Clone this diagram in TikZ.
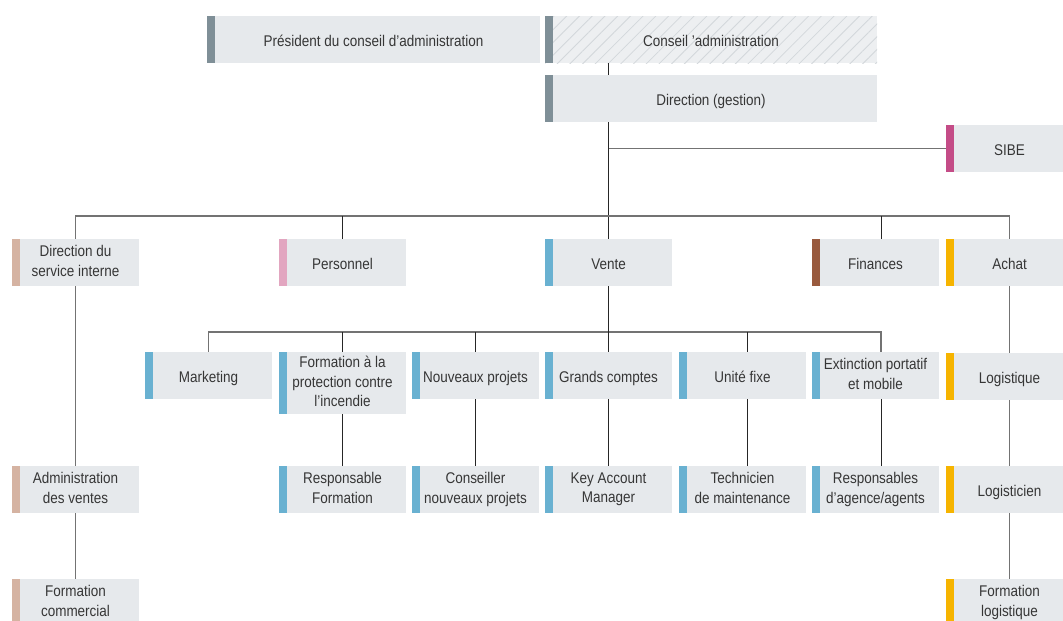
\documentclass[tikz,border=0pt]{standalone}
\usepackage{fontspec}
\setmainfont{Liberation Sans}[FakeStretch=0.87]
\usetikzlibrary{patterns.meta}

\definecolor{boxgray}{HTML}{E6E9EC}
\definecolor{hatchbg}{HTML}{EDEFF1}
\definecolor{hatchline}{HTML}{D3D7DB}
\definecolor{textgray}{HTML}{363636}
\definecolor{slate}{HTML}{7F8F97}
\definecolor{tan}{HTML}{D5B3A2}
\definecolor{rose}{HTML}{E2A6C0}
\definecolor{sky}{HTML}{69B1D1}
\definecolor{brown}{HTML}{995A3E}
\definecolor{amber}{HTML}{F6B400}
\definecolor{magenta}{HTML}{C44C87}

\tikzset{
    unit/.style={rectangle, fill=boxgray, inner sep=0pt,
        minimum width=127pt, minimum height=47pt,
        align=center, text=textgray, font=\fontsize{15.5}{19.5}\selectfont,
        execute at begin node=\rule{0pt}{17pt},
        execute at end node=\rule[-3pt]{0pt}{3pt},
        path picture={\fill[#1] (path picture bounding box.south west)
            rectangle ([xshift=8pt]path picture bounding box.north west);}},
    wide/.style={minimum width=332pt},
    link/.style={draw=black!85, line width=1pt},
    bus/.style={draw=black!55, line width=1.3pt},
}

\begin{document}
\begin{tikzpicture}[x=1pt,y=-1pt]
    \useasboundingbox (0,0) rectangle (1063,621);
    \clip (0,0) rectangle (1063,621);

    % top
    \node[unit=slate, wide, minimum width=333pt] (president) at (373.5, 39.5) {Président du conseil d’administration};
    \node[unit=slate, wide, preaction={fill=hatchbg},
        pattern={Lines[angle=45,distance=9pt,line width=0.8pt]}, pattern color=hatchline]
        (conseil) at (711, 39.5) {Conseil ’administration};
    \node[unit=slate, wide] (direction) at (711, 98.5) {Direction (gestion)};
    \node[unit=magenta] (sibe) at (1009.5, 148.5) {SIBE};

    % departments
    \node[unit=tan] (interne) at (75.5, 262.5) {Direction du\\service interne};
    \node[unit=rose] (personnel) at (342.5, 262.5) {Personnel};
    \node[unit=sky] (vente) at (608.5, 262.5) {Vente};
    \node[unit=brown] (finances) at (875.5, 262.5) {Finances};
    \node[unit=amber] (achat) at (1009.5, 262.5) {Achat};

    % sales units
    \node[unit=sky] (marketing) at (208.5, 375.5) {Marketing};
    \node[unit=sky, minimum height=62pt] (formation) at (342.5, 383) {Formation à la\\protection contre\\l’incendie};
    \node[unit=sky] (projets) at (475.5, 375.5) {Nouveaux projets};
    \node[unit=sky] (comptes) at (608.5, 375.5) {Grands comptes};
    \node[unit=sky] (fixe) at (742.5, 375.5) {Unité fixe};
    \node[unit=sky] (extinction) at (875.5, 375.5) {Extinction portatif\\et mobile};
    \node[unit=amber] (logistique) at (1009.5, 376.5) {Logistique};

    % staff
    \node[unit=tan] (adminventes) at (75.5, 489.5) {Administration\\des ventes};
    \node[unit=sky] (respformation) at (342.5, 489.5) {Responsable\\Formation};
    \node[unit=sky] (conseiller) at (475.5, 489.5) {Conseiller\\nouveaux projets};
    \node[unit=sky] (keyaccount) at (608.5, 489.5) {Key Account\\Manager};
    \node[unit=sky] (technicien) at (742.5, 489.5) {Technicien\\de maintenance};
    \node[unit=sky] (agents) at (875.5, 489.5) {Responsables\\d’agence/agents};
    \node[unit=amber] (logisticien) at (1009.5, 489.5) {Logisticien};

    \node[unit=tan] (formcommercial) at (75.5, 602.5) {Formation\\commercial};
    \node[unit=amber] (formlogistique) at (1009.5, 602.5) {Formation\\logistique};

    \coordinate (busA) at (0, 216);
    \coordinate (busB) at (0, 332);

    \draw[link] (vente |- conseil.south) -- (vente |- direction.north);
    \draw[link] (vente |- direction.south) -- (vente.north);
    \draw[bus] (vente |- sibe.west) -- (sibe.west);

    \draw[bus] (interne.north) -- (interne |- busA) -- (achat |- busA) -- (achat.north);
    \draw[link] (personnel.north) -- (personnel |- busA);
    \draw[link] ([xshift=5.5pt]finances.north) -- ([xshift=5.5pt]finances.north |- busA);

    \draw[bus] (marketing.north) -- (marketing |- busB) -- ([xshift=5.5pt]extinction.north |- busB) -- ([xshift=5.5pt]extinction.north);
    \draw[link] (vente.south) -- (comptes.north);
    \draw[link] (formation.north) -- (formation |- busB);
    \draw[link] (projets.north) -- (projets |- busB);
    \draw[link] ([xshift=4.5pt]fixe.north) -- ([xshift=4.5pt]fixe.north |- busB);

    \draw[link] (formation.south) -- (respformation.north);
    \draw[link] (projets.south) -- (conseiller.north);
    \draw[link] (comptes.south) -- (keyaccount.north);
    \draw[link] ([xshift=4.5pt]fixe.south) -- ([xshift=4.5pt]technicien.north);
    \draw[link] ([xshift=5.5pt]extinction.south) -- ([xshift=5.5pt]agents.north);

    \draw[bus] (interne.south) -- (adminventes.north);
    \draw[bus] (adminventes.south) -- (formcommercial.north);
    \draw[bus] (achat.south) -- (logistique.north);
    \draw[bus] (logistique.south) -- (logisticien.north);
    \draw[bus] (logisticien.south) -- (formlogistique.north);

\end{tikzpicture}
\end{document}
